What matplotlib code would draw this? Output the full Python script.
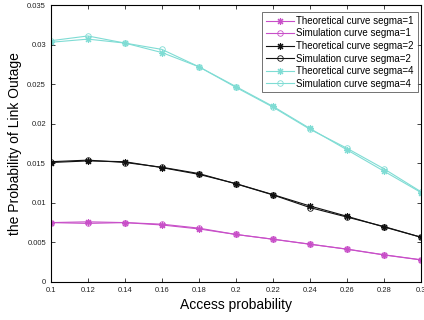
import matplotlib
matplotlib.use("Agg")
import matplotlib.pyplot as plt

plt.rcParams['font.family'] = ['Liberation Sans', 'DejaVu Sans']

x = [0.1, 0.12, 0.14, 0.16, 0.18, 0.2, 0.22, 0.24, 0.26, 0.28, 0.3]
theo1 = [0.0075, 0.0076, 0.0075, 0.0072, 0.0067, 0.0060, 0.0054, 0.00478, 0.00413, 0.00341, 0.00278]
sim1 = [0.0075, 0.0074, 0.0075, 0.0073, 0.0068, 0.0060, 0.0054, 0.00476, 0.00415, 0.00343, 0.00280]
theo2 = [0.0151, 0.0153, 0.0152, 0.01445, 0.0136, 0.01243, 0.01104, 0.0096, 0.0083, 0.00695, 0.00565]
sim2 = [0.0152, 0.0154, 0.0151, 0.0145, 0.0137, 0.01240, 0.01100, 0.0094, 0.0082, 0.00700, 0.00565]
theo4 = [0.0303, 0.0307, 0.0302, 0.0290, 0.0272, 0.0247, 0.0222, 0.0194, 0.0167, 0.0140, 0.0113]
sim4 = [0.0305, 0.0311, 0.0302, 0.0294, 0.0272, 0.0246, 0.0221, 0.0193, 0.0169, 0.0143, 0.0114]

labels = ['Theoretical curve segma=1', 'Simulation curve segma=1',
          'Theoretical curve segma=2', 'Simulation curve segma=2',
          'Theoretical curve segma=4', 'Simulation curve segma=4']

c1 = '#c84fc8'
c2 = '#111111'
c4 = '#7fdcd4'

fig = plt.figure(figsize=(4.24, 3.2), dpi=100)
ax = fig.add_axes([0.120, 0.119, 0.873, 0.865])

kw_t = dict(marker=(8, 2, 0), markersize=5, linewidth=0.8, markeredgewidth=0.8)
kw_s = dict(marker='o', markersize=4, markerfacecolor='none', linewidth=0.8, markeredgewidth=0.6)
ax.plot(x, theo1, color=c1, label=labels[0], **kw_t)
ax.plot(x, sim1, color=c1, label=labels[1], **kw_s)
ax.plot(x, theo2, color=c2, label=labels[2], **kw_t)
ax.plot(x, sim2, color=c2, label=labels[3], **kw_s)
ax.plot(x, theo4, color=c4, label=labels[4], **kw_t)
ax.plot(x, sim4, color=c4, label=labels[5], **kw_s)

ax.set_xlim(0.1, 0.3)
ax.set_ylim(0, 0.035)
ax.set_xticks(x)
ax.set_xticklabels(['0.1', '0.12', '0.14', '0.16', '0.18', '0.2', '0.22', '0.24', '0.26', '0.28', '0.3'])
yt = [0, 0.005, 0.01, 0.015, 0.02, 0.025, 0.03, 0.035]
ax.set_yticks(yt)
ax.set_yticklabels(['0', '0.005', '0.01', '0.015', '0.02', '0.025', '0.03', '0.035'])
ax.tick_params(direction='in', top=True, right=True, labelsize=5.5, length=3, width=0.6, colors='#222222')
for s in ax.spines.values():
    s.set_linewidth(0.8)
ax.set_xlabel('Access probability', fontsize=10, labelpad=3)
ax.set_ylabel('the Probability of Link Outage', fontsize=10, labelpad=4)
leg = ax.legend(loc='upper right', fontsize=7, frameon=True, fancybox=False, edgecolor='#333333',
                handlelength=2.9, borderpad=0.4, labelspacing=0.26, handletextpad=0.2,
                borderaxespad=0, bbox_to_anchor=(0.991, 0.975))
leg.get_frame().set_linewidth(0.6)

fig.savefig('out.png', dpi=100)
